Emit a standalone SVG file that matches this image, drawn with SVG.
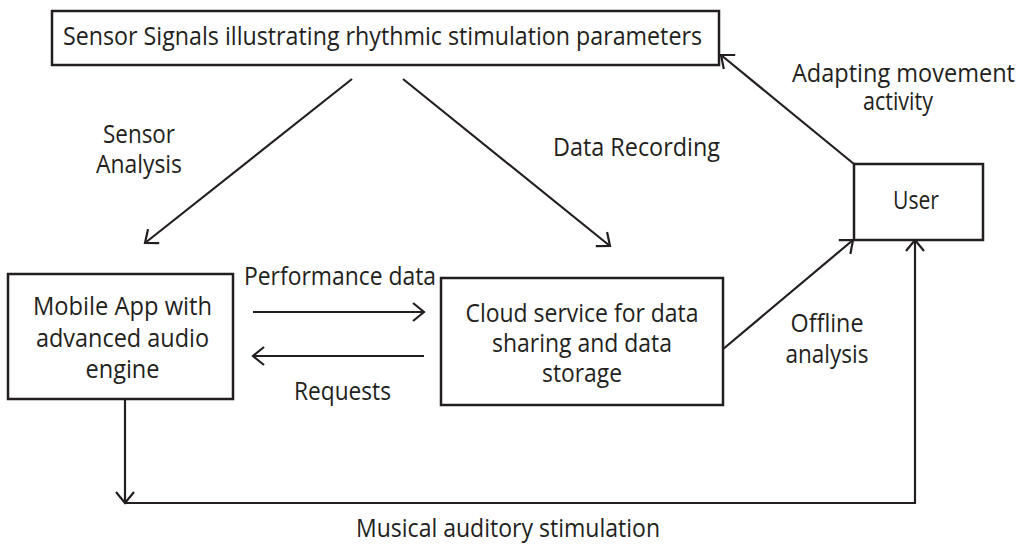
<svg xmlns="http://www.w3.org/2000/svg" width="1017" height="545" viewBox="0 0 1017 545">
  <style>
    .box { fill: #ffffff; stroke: #231f20; stroke-width: 2.5; }
    .link { fill: none; stroke: #231f20; stroke-width: 2.2; }
    .arrow { marker-end: url(#head); }
    text { font-family: "Open Sans", "Noto Sans", "Liberation Sans", sans-serif; font-size: 25px; fill: #231f20; }
    .c { text-anchor: middle; }
  </style>
  <defs>
    <marker id="head" markerUnits="userSpaceOnUse" viewBox="-14 -12 16 24" markerWidth="16" markerHeight="24" refX="0" refY="0" orient="auto">
      <path d="M-11,-9 L0,0 L-11,9" fill="none" stroke="#231f20" stroke-width="2.2"/>
    </marker>
  </defs>

  <rect width="1017" height="545" fill="#ffffff"/>

  <!-- connectors and their labels -->
  <g id="connectors">
    <path class="link arrow" d="M352,79 L145,243"/>
    <path class="link arrow" d="M403,79 L610,246"/>
    <path class="link arrow" d="M253,312 L424,312"/>
    <path class="link arrow" d="M424,356 L253,356"/>
    <path class="link arrow" d="M722,350 L853,240"/>
    <path class="link arrow" d="M854,164 L721,55"/>
    <path class="link arrow" d="M125,399 L125,503"/>
    <path class="link arrow" d="M125,503 L915,503 L915,240"/>

    <text class="c" x="139" y="143" textLength="72" lengthAdjust="spacingAndGlyphs">Sensor</text>
    <text class="c" x="139" y="173" textLength="86" lengthAdjust="spacingAndGlyphs">Analysis</text>
    <text x="553" y="156" textLength="167" lengthAdjust="spacingAndGlyphs">Data Recording</text>
    <text x="792" y="82" textLength="223" lengthAdjust="spacingAndGlyphs">Adapting movement</text>
    <text class="c" x="898" y="110" textLength="70" lengthAdjust="spacingAndGlyphs">activity</text>
    <text x="244" y="285" textLength="192" lengthAdjust="spacingAndGlyphs">Performance data</text>
    <text x="294" y="400" textLength="97" lengthAdjust="spacingAndGlyphs">Requests</text>
    <text class="c" x="827" y="332" textLength="73" lengthAdjust="spacingAndGlyphs">Offline</text>
    <text class="c" x="827" y="363" textLength="83" lengthAdjust="spacingAndGlyphs">analysis</text>
    <text x="356" y="537" textLength="304" lengthAdjust="spacingAndGlyphs">Musical auditory stimulation</text>
  </g>

  <g id="sensor-signals">
    <rect class="box" x="52" y="11" width="667" height="54"/>
    <text x="63" y="45" textLength="639" lengthAdjust="spacingAndGlyphs">Sensor Signals illustrating rhythmic stimulation parameters</text>
  </g>

  <g id="mobile-app">
    <rect class="box" x="8" y="274" width="225" height="125"/>
    <text class="c" x="122.5" y="315" textLength="179" lengthAdjust="spacingAndGlyphs">Mobile App with</text>
    <text class="c" x="122.5" y="347" textLength="173" lengthAdjust="spacingAndGlyphs">advanced audio</text>
    <text class="c" x="122.5" y="378" textLength="74" lengthAdjust="spacingAndGlyphs">engine</text>
  </g>

  <g id="cloud-service">
    <rect class="box" x="441" y="278" width="282" height="127"/>
    <text class="c" x="582" y="322" textLength="233" lengthAdjust="spacingAndGlyphs">Cloud service for data</text>
    <text class="c" x="582" y="352" textLength="180" lengthAdjust="spacingAndGlyphs">sharing and data</text>
    <text class="c" x="582" y="382" textLength="80" lengthAdjust="spacingAndGlyphs">storage</text>
  </g>

  <g id="user">
    <rect class="box" x="854" y="164" width="129" height="76"/>
    <text class="c" x="916" y="209" textLength="46" lengthAdjust="spacingAndGlyphs">User</text>
  </g>
</svg>
